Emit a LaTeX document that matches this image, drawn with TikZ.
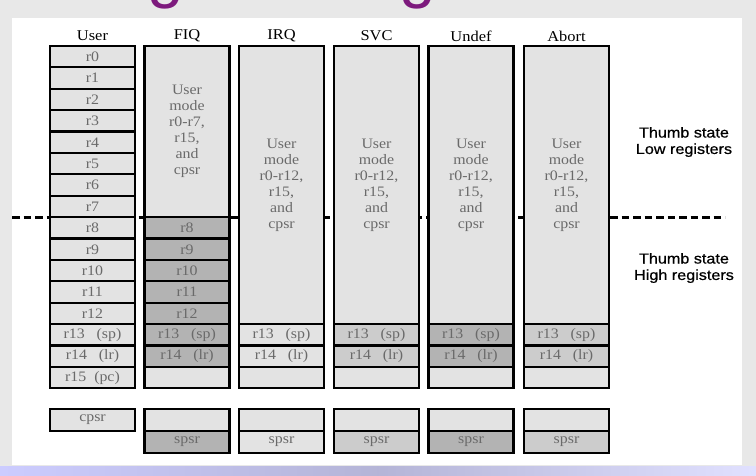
\documentclass[tikz,border=0pt]{standalone}
\usepackage{fontspec}
\setmainfont{Liberation Serif}[FakeStretch=1.1]
\newfontfamily\labelfont{Liberation Sans}[FakeStretch=1.12,FakeBold=0.6]
\newfontfamily\titlefont{Liberation Sans}
\usepackage{tikz}
\usetikzlibrary{shapes}

\definecolor{slidebg}{HTML}{E8E8E8}
\definecolor{regL}{HTML}{E3E3E3}
\definecolor{regM}{HTML}{CCCCCC}
\definecolor{regD}{HTML}{B3B3B3}
\definecolor{regtxt}{HTML}{6A6A6A}
\definecolor{titlepurple}{HTML}{7D1A7D}

\begin{document}
\begin{tikzpicture}[line join=miter,
  reg/.style={draw,line width=2.2bp,fill=regL,text=regtxt,inner sep=0pt,
    minimum width=85bp,minimum height=21.4bp,font=\fontsize{14.5}{16}\selectfont},
  regmid/.style={reg,fill=regM},
  regdark/.style={reg,fill=regD},
  psr/.style={reg,minimum height=22bp},
  bigbox/.style={reg,align=center},
  mode/.style={font=\fontsize{15}{16}\selectfont,inner sep=0pt},
  thumb/.style={font=\labelfont\fontsize{14.5}{16.5}\selectfont,align=center,inner sep=0pt},
  thumbline/.style={line width=2.8bp,dash pattern=on 7.5bp off 4bp},
]
\clip (0bp,0bp) rectangle (756bp,476bp);
\useasboundingbox (0bp,0bp) rectangle (756bp,476bp);
%% slide
\fill[slidebg] (0bp,0bp) rectangle (756bp,476bp);
\fill[white] (12bp,11bp) rectangle (742bp,458bp);
\shade[left color=blue!20!white,right color=blue!12!white,middle color=blue!30!gray!45!white]
  (0bp,0bp) rectangle (756bp,9bp);
\node (title) at (63bp,480bp) [anchor=base west,inner sep=0pt,text=titlepurple,
  font=\titlefont\fontsize{66}{70}\selectfont] {Register Organization};
%%
\coordinate (dash_l) at (12bp,258.8bp);
\coordinate (dash_r) at (725bp,258.8bp);
\draw [thumbline] (dash_l) -- (dash_r);
%%
\node (hd_user) at (92.5bp,440bp) [mode] {User};
  \node (hd_fiq) at (187bp,440bp) [mode] {FIQ};
  \node (hd_irq) at (281.5bp,440bp) [mode] {IRQ};
  \node (hd_svc) at (376.5bp,440bp) [mode] {SVC};
  \node (hd_und) at (471bp,440bp) [mode] {Undef};
  \node (hd_abt) at (566.5bp,440bp) [mode] {Abort};
%% user
\node (user_r0) at (92.5bp,419.3bp) [reg] {r0};
  \node (user_r1) at (92.5bp,397.9bp) [reg] {r1};
  \node (user_r2) at (92.5bp,376.5bp) [reg] {r2};
  \node (user_r3) at (92.5bp,355.1bp) [reg] {r3};
  \node (user_r4) at (92.5bp,333.7bp) [reg] {r4};
  \node (user_r5) at (92.5bp,312.3bp) [reg] {r5};
  \node (user_r6) at (92.5bp,290.9bp) [reg] {r6};
  \node (user_r7) at (92.5bp,269.5bp) [reg] {r7};
  \node (user_r8) at (92.5bp,248.1bp) [reg] {r8};
  \node (user_r9) at (92.5bp,226.7bp) [reg] {r9};
  \node (user_r10) at (92.5bp,205.3bp) [reg] {r10};
  \node (user_r11) at (92.5bp,183.9bp) [reg] {r11};
  \node (user_r12) at (92.5bp,162.5bp) [reg] {r12};
  \node (user_r13) at (92.5bp,141.1bp) [reg] {r13~~~(sp)};
  \node (user_r14) at (92.5bp,119.7bp) [reg] {r14~~~(lr)};
  \node (user_r15) at (92.5bp,98.3bp) [reg] {r15~~(pc)};
  \node (user_cpsr) at (92.5bp,56bp) [psr] {cpsr};
%% fiq
\node (fiq_low) at (187bp,344.4bp) [bigbox,minimum height=171.2bp] {User\\mode\\r0-r7,\\r15,\\and\\cpsr};
  \node (fiq_r8) at (187bp,248.1bp) [regdark] {r8};
  \node (fiq_r9) at (187bp,226.7bp) [regdark] {r9};
  \node (fiq_r10) at (187bp,205.3bp) [regdark] {r10};
  \node (fiq_r11) at (187bp,183.9bp) [regdark] {r11};
  \node (fiq_r12) at (187bp,162.5bp) [regdark] {r12};
  \node (fiq_r13) at (187bp,141.1bp) [regdark] {r13~~~(sp)};
  \node (fiq_r14) at (187bp,119.7bp) [regdark] {r14~~~(lr)};
  \node (fiq_r15) at (187bp,98.3bp) [reg] {};
  \node (fiq_cpsr) at (187bp,56bp) [psr] {};
  \node (fiq_spsr) at (187bp,34bp) [psr,fill=regD] {spsr};
%% irq
\node (irq_low) at (281.5bp,290.9bp) [bigbox,minimum height=278.2bp] {User\\mode\\r0-r12,\\r15,\\and\\cpsr};
  \node (irq_r13) at (281.5bp,141.1bp) [reg] {r13~~~(sp)};
  \node (irq_r14) at (281.5bp,119.7bp) [reg] {r14~~~(lr)};
  \node (irq_r15) at (281.5bp,98.3bp) [reg] {};
  \node (irq_cpsr) at (281.5bp,56bp) [psr] {};
  \node (irq_spsr) at (281.5bp,34bp) [psr] {spsr};
%% svc
\node (svc_low) at (376.5bp,290.9bp) [bigbox,minimum height=278.2bp] {User\\mode\\r0-r12,\\r15,\\and\\cpsr};
  \node (svc_r13) at (376.5bp,141.1bp) [regmid] {r13~~~(sp)};
  \node (svc_r14) at (376.5bp,119.7bp) [regmid] {r14~~~(lr)};
  \node (svc_r15) at (376.5bp,98.3bp) [reg] {};
  \node (svc_cpsr) at (376.5bp,56bp) [psr] {};
  \node (svc_spsr) at (376.5bp,34bp) [psr,fill=regM] {spsr};
%% undef
\node (und_low) at (471bp,290.9bp) [bigbox,minimum height=278.2bp] {User\\mode\\r0-r12,\\r15,\\and\\cpsr};
  \node (und_r13) at (471bp,141.1bp) [regdark] {r13~~~(sp)};
  \node (und_r14) at (471bp,119.7bp) [regdark] {r14~~~(lr)};
  \node (und_r15) at (471bp,98.3bp) [reg] {};
  \node (und_cpsr) at (471bp,56bp) [psr] {};
  \node (und_spsr) at (471bp,34bp) [psr,fill=regD] {spsr};
%% abort
\node (abt_low) at (566.5bp,290.9bp) [bigbox,minimum height=278.2bp] {User\\mode\\r0-r12,\\r15,\\and\\cpsr};
  \node (abt_r13) at (566.5bp,141.1bp) [regmid] {r13~~~(sp)};
  \node (abt_r14) at (566.5bp,119.7bp) [regmid] {r14~~~(lr)};
  \node (abt_r15) at (566.5bp,98.3bp) [reg] {};
  \node (abt_cpsr) at (566.5bp,56bp) [psr] {};
  \node (abt_spsr) at (566.5bp,34bp) [psr,fill=regM] {spsr};
%% thumb
\node (thumb_low) at (684bp,334bp) [thumb] {Thumb state\\Low registers};
  \node (thumb_high) at (684bp,208bp) [thumb] {Thumb state\\High registers};
%
\end{tikzpicture}
\end{document}
